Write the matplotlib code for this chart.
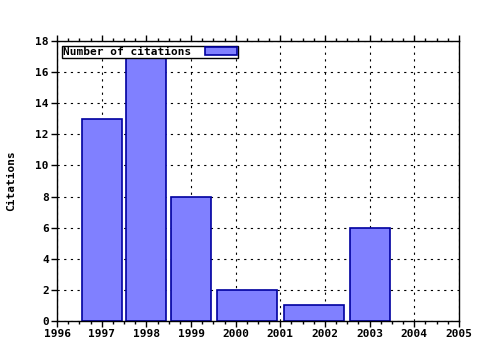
import numpy as np
import matplotlib
matplotlib.use("Agg")
import matplotlib.pyplot as plt
from matplotlib.ticker import MultipleLocator

years = [1997, 1998, 1999, 2000, 2002, 2003]
citations = [13, 17, 8, 2, 1, 6]
year_ticks = list(range(1996, 2006))
citation_ticks = list(range(0, 20, 2))

plt.rcParams["font.family"] = "DejaVu Sans Mono"
plt.rcParams["font.weight"] = "bold"


def box_edges(x, frac=0.9):
    """gnuplot-style boxes: each box reaches halfway to its neighbours, scaled by frac."""
    x = np.asarray(x, dtype=float)
    gaps = np.diff(x)
    left = np.concatenate([[gaps[0]], gaps]) / 2
    right = np.concatenate([gaps, [gaps[-1]]]) / 2
    lo = x - left
    hi = x + right
    mid = (lo + hi) / 2
    width = (hi - lo) * frac
    return mid, width


fig = plt.figure(figsize=(4.8, 3.5), dpi=100)
ax = fig.add_axes([0.119, 0.083, 0.837, 0.8])

mid, width = box_edges(years)
ax.bar(mid, citations, width=width, color="#8080ff", edgecolor="#0000a0",
       linewidth=1.2, label="Number of citations", zorder=2)

ax.set_xlim(1996, 2005)
ax.set_ylim(0, 18)
ax.set_xticks(year_ticks)
ax.set_yticks(citation_ticks)
ax.xaxis.set_minor_locator(MultipleLocator(0.25))
ax.tick_params(which="both", direction="out", top=True, right=False, labelsize=8)
ax.tick_params(which="major", length=4, width=1, pad=2)
ax.tick_params(which="minor", length=2, width=1)
ax.grid(True, which="major", color="black", linestyle=(0, (2, 4)), linewidth=0.8, zorder=1)
ax.set_axisbelow(True)
for s in ax.spines.values():
    s.set_linewidth(1)

ax.set_ylabel("Citations", fontsize=8, fontweight="bold", labelpad=14)

leg = ax.legend(loc="upper left", markerfirst=False, fontsize=8, frameon=True,
                fancybox=False, edgecolor="black", borderpad=0.1,
                handlelength=2.9, handleheight=0.7, borderaxespad=0.45,
                handletextpad=1.2)
leg.get_frame().set_linewidth(1)
leg.get_frame().set_alpha(1)

fig.savefig("out.png", dpi=100)
